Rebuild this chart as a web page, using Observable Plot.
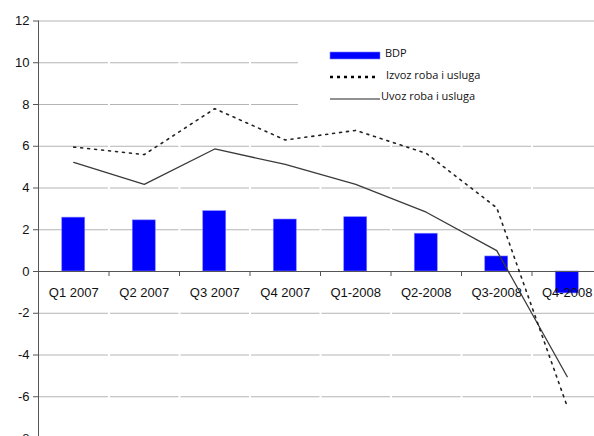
<!DOCTYPE html>
<html>
<head>
<meta charset="utf-8">
<script src="https://cdn.jsdelivr.net/npm/d3@7"></script>
<script src="https://cdn.jsdelivr.net/npm/@observablehq/plot@0.6"></script>
<style>
  html, body { margin: 0; padding: 0; background: white; overflow: hidden; }
  #wrap { position: relative; width: 594px; height: 436px; }
  #legend { position: absolute; left: 298px; top: 28px; width: 296px; height: 96px; background: white;
            font-family: "Open Sans", "Liberation Sans", sans-serif; font-size: 11px; color: #111; }
  #legend .item { position: absolute; white-space: nowrap; }
  #legend svg { position: absolute; overflow: visible; }
</style>
</head>
<body>
<div id="wrap">
  <div id="chart"></div>
  <div id="legend"></div>
</div>
<script>
const categories = ["Q1 2007", "Q2 2007", "Q3 2007", "Q4 2007", "Q1-2008", "Q2-2008", "Q3-2008", "Q4-2008"];
const bdp   = [2.58, 2.45, 2.89, 2.49, 2.6, 1.81, 0.72, -1.05];
const izvoz = [5.96, 5.6, 7.8, 6.3, 6.76, 5.66, 3.05, -6.47];
const uvoz  = [5.23, 4.17, 5.87, 5.13, 4.17, 2.84, 1.0, -5.04];
const yTicks = [-8, -6, -4, -2, 0, 2, 4, 6, 8, 10, 12];
const seriesNames = ["BDP", "Izvoz roba i usluga", "Uvoz roba i usluga"];

const idx = categories.map((c, i) => i + 1);
const boundaries = categories.slice(0, -1).map((c, i) => i + 1.5);
const barData = categories.map((c, i) => ({pos: i + 1, value: bdp[i]}));
const izData = categories.map((c, i) => ({pos: i + 1, value: izvoz[i]}));
const uvData = categories.map((c, i) => ({pos: i + 1, value: uvoz[i]}));
const halfBar = 0.163;

const chart = Plot.plot({
  width: 594,
  height: 436,
  marginLeft: 38,
  marginRight: 0,
  marginTop: 20,
  marginBottom: 0,
  style: {fontFamily: "'Liberation Sans', Arial, sans-serif", fontSize: "13px", color: "#111", background: "white"},
  x: {type: "linear", domain: [0.5, 8.5], range: [38, 602], axis: null},
  y: {domain: [-8, 12], range: [438, 20.5], axis: null},
  marks: [
    Plot.ruleY(yTicks, {stroke: "#b4b4b4", strokeWidth: 1}),
    Plot.ruleX(boundaries, {y1: -8.5, y2: 10.5, stroke: "white", strokeWidth: 2}),
    Plot.axisY({ticks: yTicks, anchor: "left", label: null, tickSize: 5, tickPadding: 4, fontSize: 13, stroke: "#555", tickFormat: d => String(d)}),
    Plot.ruleX([0.5], {y1: -8.5, y2: 12, stroke: "#555", strokeWidth: 1}),
    Plot.rectY(barData, {x1: d => d.pos - halfBar, x2: d => d.pos + halfBar, y1: 0, y2: "value", fill: "#0000ff", stroke: "#7f7fff", strokeWidth: 0.6}),
    Plot.ruleY([0], {stroke: "#555", strokeWidth: 1}),
    Plot.ruleX(boundaries, {y1: 0, y2: -0.24, stroke: "#555", strokeWidth: 1}),
    Plot.text(categories, {x: (d, i) => idx[i], y: 0, dy: 21, text: d => d, fontSize: 13, fill: "#111", textAnchor: "middle"}),
    Plot.line(uvData, {x: "pos", y: "value", stroke: "#3a3a3a", strokeWidth: 1.3}),
    Plot.line(izData, {x: "pos", y: "value", stroke: "#222", strokeWidth: 1.6, strokeDasharray: "2,5"})
  ]
});
document.getElementById("chart").appendChild(chart);

// Legend
const legend = document.getElementById("legend");
const items = [
  {name: seriesNames[0], type: "bar", sy: 28, ty: 17, tx: 87},
  {name: seriesNames[1], type: "dot", sy: 49, ty: 39, tx: 88},
  {name: seriesNames[2], type: "line", sy: 71, ty: 60, tx: 83}
];
items.forEach(it => {
  const s = document.createElementNS("http://www.w3.org/2000/svg", "svg");
  s.setAttribute("width", "52"); s.setAttribute("height", "10");
  s.style.left = "32px"; s.style.top = (it.sy - 5) + "px";
  if (it.type === "bar") {
    s.innerHTML = '<rect x="0" y="1" width="50" height="7" fill="#0000ff" stroke="#7f7fff" stroke-width="0.6"/>';
  } else if (it.type === "dot") {
    s.innerHTML = '<line x1="0" y1="5" x2="48" y2="5" stroke="#000" stroke-width="2.5" stroke-dasharray="3,4"/>';
  } else {
    s.innerHTML = '<line x1="0" y1="5" x2="50" y2="5" stroke="#222" stroke-width="1.2"/>';
  }
  legend.appendChild(s);
  const t = document.createElement("div");
  t.className = "item";
  t.textContent = it.name;
  t.style.left = it.tx + "px";
  t.style.top = it.ty + "px";
  legend.appendChild(t);
});
</script>
</body>
</html>
